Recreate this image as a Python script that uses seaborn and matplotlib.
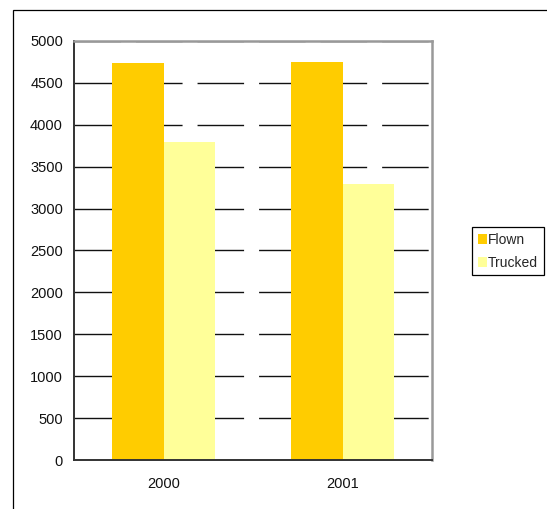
import matplotlib
matplotlib.use("Agg")
import matplotlib.pyplot as plt
import pandas as pd
import seaborn as sns
from matplotlib.patches import Rectangle

years = ["2000", "2001"]
flown = [4740, 4750]
trucked = [3800, 3290]
series_names = ["Flown", "Trucked"]
y_ticks = list(range(0, 5001, 500))

W, H = 547, 509


def main():
    sns.set_style("white")
    plt.rcParams["font.family"] = ["Liberation Sans", "DejaVu Sans"]
    plt.rcParams["lines.scale_dashes"] = False

    df = pd.DataFrame({
        "year": years * 2,
        "value": flown + trucked,
        "mode": [series_names[0]] * len(years) + [series_names[1]] * len(years),
    })

    fig = plt.figure(figsize=(W / 100, H / 100), dpi=100)
    ax = fig.add_axes([74 / W, (H - 460) / H, (432 - 74) / W, (460 - 41) / H])

    sns.barplot(
        data=df, x="year", y="value", hue="mode",
        palette=["#FFCC00", "#FFFF99"], saturation=1, width=0.575,
        linewidth=0, ax=ax,
    )

    ax.set_ylim(0, 5000)
    ax.set_xlim(-0.5, len(years) - 0.5)
    ax.set_yticks(y_ticks)
    ax.set_xlabel("")
    ax.set_ylabel("")

    ax.set_axisbelow(True)
    ax.yaxis.grid(True, color="#111111", linewidth=1.0, linestyle=(0, (33.5, 10.8)))
    ax.xaxis.grid(False)

    ax.set_xticks([i for i in range(len(years))])
    ax.set_xticklabels(years)
    ax.set_xticks([i - 0.5 for i in range(len(years) + 1)], minor=True)
    ax.tick_params(axis="x", which="major", length=0, pad=12, labelsize=10.5, colors="#111111")
    ax.tick_params(axis="x", which="minor", length=5, width=1.2, direction="out", color="#333333")
    ax.tick_params(axis="y", which="major", length=5, width=1.2, direction="out",
                   color="#333333", labelsize=10.5, labelcolor="#111111", pad=3)

    for side in ["left", "bottom"]:
        ax.spines[side].set_color("#333333")
        ax.spines[side].set_linewidth(1.4)
    for side in ["top", "right"]:
        ax.spines[side].set_color("#999999")
        ax.spines[side].set_linewidth(1.8)
        ax.spines[side].set_visible(True)

    handles, labels = ax.get_legend_handles_labels()
    ax.legend_.remove()
    fig.legend(
        handles, labels,
        loc="upper left",
        bbox_to_anchor=(472 / W, (H - 227) / H),
        bbox_transform=fig.transFigure,
        fancybox=False, frameon=True, edgecolor="black", framealpha=1,
        fontsize=10, handlelength=0.7, handleheight=0.7,
        handletextpad=0.05, labelspacing=0.65, borderpad=0.4,
        borderaxespad=0,
    )
    fig.legends[0].get_frame().set_linewidth(0.9)

    # outer chart frame (cut off at the right and bottom)
    fig.patches.append(Rectangle(
        (12.5 / W, -0.1), 1.2, (H - 10) / H + 0.1,
        transform=fig.transFigure, fill=False, edgecolor="black", linewidth=0.9,
    ))

    fig.savefig("out.png", dpi=100)


if __name__ == "__main__":
    main()
